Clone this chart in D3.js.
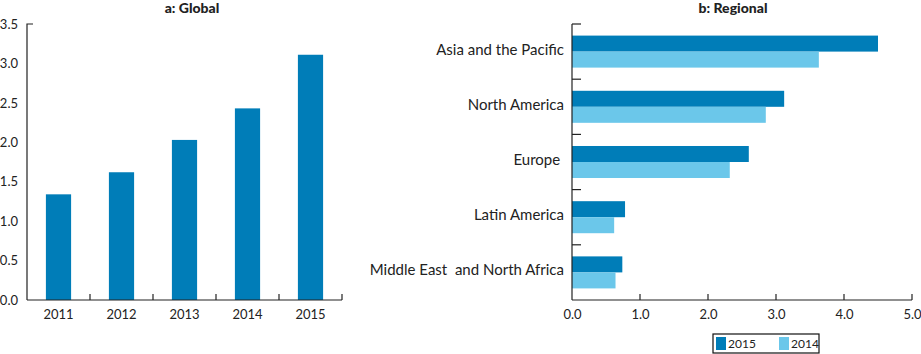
<!DOCTYPE html>
<html>
<head>
<meta charset="utf-8">
<script src="https://cdn.jsdelivr.net/npm/d3@7"></script>
<style>
  body { margin: 0; background: #fff; }
  svg text { font-family: Lato, "Open Sans", sans-serif; }
  .tick text { fill: #222; font-size: 13px; }
  .title { font-weight: 900; font-size: 14px; fill: #222; }
</style>
</head>
<body>
<svg id="chart" width="921" height="354"></svg>
<script>
// ---------------- Data ----------------
const years = ["2011", "2012", "2013", "2014", "2015"];
const globalValues = [1.34, 1.62, 2.03, 2.43, 3.11];
const globalTicks = [0, 0.5, 1.0, 1.5, 2.0, 2.5, 3.0, 3.5];

const regions = ["Asia and the Pacific", "North America", "Europe ", "Latin America", "Middle East  and North Africa"];
const series = ["2015", "2014"];
const values2015 = [4.50, 3.12, 2.60, 0.78, 0.74];
const values2014 = [3.63, 2.85, 2.32, 0.62, 0.64];
const regionalTicks = [0, 1, 2, 3, 4, 5];

const dark = "#007db8";
const light = "#6bc7ea";
const axisColor = "#222";

const svg = d3.select("#chart");
const fmt = d3.format(".1f");

// ---------------- a: Global ----------------
const x1 = d3.scaleBand().domain(years).range([27, 342]).paddingInner(0.6).paddingOuter(0.3);
const y1 = d3.scaleLinear().domain([0, 3.5]).range([300, 24]);

svg.append("text").attr("class", "title")
  .attr("x", 192).attr("y", 13).attr("text-anchor", "middle")
  .text("a: Global");

svg.append("g").selectAll("rect")
  .data(years)
  .join("rect")
  .attr("x", d => x1(d))
  .attr("y", (d, i) => y1(globalValues[i]))
  .attr("width", x1.bandwidth())
  .attr("height", (d, i) => y1(0) - y1(globalValues[i]))
  .attr("fill", dark);

// y axis
const gy1 = svg.append("g").attr("transform", "translate(27,0)")
  .call(d3.axisLeft(y1).tickValues(globalTicks).tickFormat(fmt).tickSize(0).tickPadding(9));
gy1.select(".domain").remove();
svg.append("path")
  .attr("d", `M33,${y1(3.5)}H27V${y1(0)}`)
  .attr("fill", "none").attr("stroke", axisColor).attr("stroke-width", 1.2);

// x axis
const gx1 = svg.append("g").attr("transform", `translate(0,${y1(0)})`)
  .call(d3.axisBottom(x1).tickSize(0).tickPadding(10));
gx1.select(".domain").remove();
const bounds1 = d3.range(1, years.length + 1).map(i => 27 + i * (315 / years.length));
svg.append("line")
  .attr("x1", 27).attr("x2", 342).attr("y1", y1(0)).attr("y2", y1(0))
  .attr("stroke", axisColor).attr("stroke-width", 1.2);
svg.append("g").selectAll("line")
  .data(bounds1)
  .join("line")
  .attr("x1", d => d).attr("x2", d => d)
  .attr("y1", y1(0)).attr("y2", y1(0) - 6)
  .attr("stroke", axisColor).attr("stroke-width", 1.2);

// ---------------- b: Regional ----------------
const x2 = d3.scaleLinear().domain([0, 5]).range([572, 912]);
const y2 = d3.scaleBand().domain(regions).range([24, 300]).paddingInner(0.42).paddingOuter(0.21);
const ySub = d3.scaleBand().domain(series).range([0, y2.bandwidth()]);

svg.append("text").attr("class", "title")
  .attr("x", 733).attr("y", 13).attr("text-anchor", "middle")
  .text("b: Regional");

const rows = regions.map((r, i) => ({ region: r, values: [values2015[i], values2014[i]] }));

svg.append("g").selectAll("g")
  .data(rows)
  .join("g")
  .attr("transform", d => `translate(0,${y2(d.region)})`)
  .selectAll("rect")
  .data(d => d.values.map((v, j) => ({ key: series[j], value: v })))
  .join("rect")
  .attr("x", x2(0))
  .attr("y", d => ySub(d.key))
  .attr("width", d => x2(d.value) - x2(0))
  .attr("height", ySub.bandwidth())
  .attr("fill", d => d.key === "2015" ? dark : light);

// category axis
const gy2 = svg.append("g").attr("transform", "translate(572,0)")
  .call(d3.axisLeft(y2).tickSize(0).tickPadding(8));
gy2.select(".domain").remove();
gy2.selectAll("text").style("font-size", "15px").style("white-space", "pre").attr("dy", "0.2em");
const bounds2 = d3.range(0, regions.length).map(i => 24 + i * (276 / regions.length));
svg.append("line")
  .attr("x1", 572).attr("x2", 572).attr("y1", 24).attr("y2", 300)
  .attr("stroke", axisColor).attr("stroke-width", 1.2);
svg.append("g").selectAll("line")
  .data(bounds2)
  .join("line")
  .attr("x1", 572).attr("x2", 581)
  .attr("y1", d => d).attr("y2", d => d)
  .attr("stroke", axisColor).attr("stroke-width", 1.2);

// value axis
const gx2 = svg.append("g").attr("transform", "translate(0,300)")
  .call(d3.axisBottom(x2).tickValues(regionalTicks).tickFormat(fmt).tickSize(0).tickPadding(10));
gx2.select(".domain").remove();
svg.append("line")
  .attr("x1", 572).attr("x2", 912).attr("y1", 300).attr("y2", 300)
  .attr("stroke", axisColor).attr("stroke-width", 1.2);
svg.append("g").selectAll("line")
  .data(regionalTicks.slice(1))
  .join("line")
  .attr("x1", d => x2(d)).attr("x2", d => x2(d))
  .attr("y1", 300).attr("y2", 294)
  .attr("stroke", axisColor).attr("stroke-width", 1.2);

// legend
const legend = svg.append("g").attr("transform", "translate(713,334)");
legend.append("rect")
  .attr("x", 0).attr("y", 0).attr("width", 106).attr("height", 19)
  .attr("fill", "#fff").attr("stroke", "#111").attr("stroke-width", 1.2);
const item = legend.selectAll("g.item")
  .data(series)
  .join("g")
  .attr("class", "item")
  .attr("transform", (d, i) => `translate(${3 + i * 63},3)`);
item.append("rect")
  .attr("width", 10).attr("height", 13)
  .attr("fill", d => d === "2015" ? dark : light);
item.append("text")
  .attr("x", 12).attr("y", 11)
  .attr("fill", "#222").style("font-size", "12px")
  .text(d => d);
</script>
</body>
</html>
